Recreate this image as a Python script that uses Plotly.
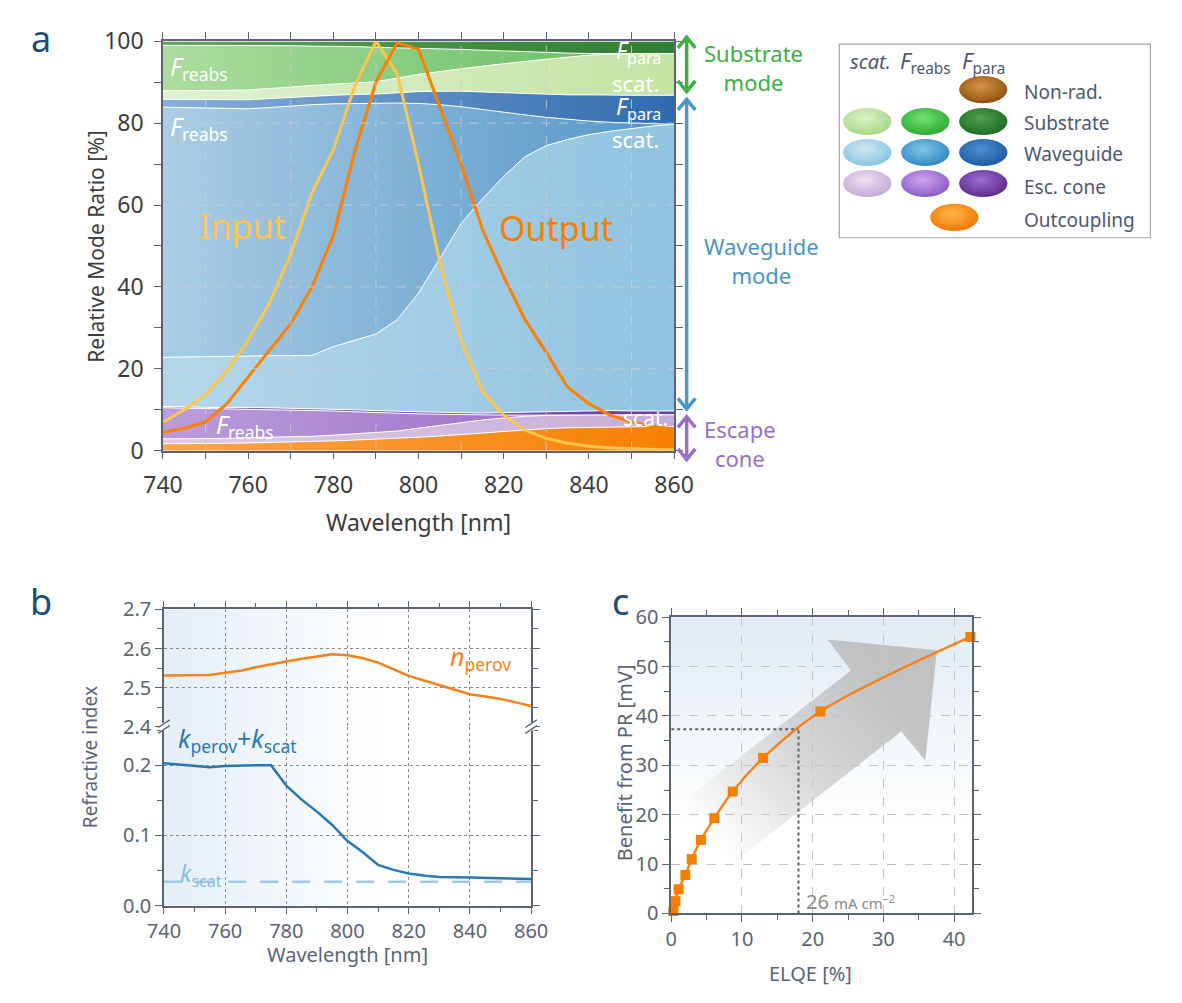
import base64
import plotly.graph_objects as go

W, H = 1182, 1003
FONT = "Noto Sans"
AXIS = "#5a6478"


def fx(x):
    return x / W


def fy(y):
    return 1 - y / H


# ---------------- panel a: relative mode ratio ----------------
wl = list(range(740, 865, 5))
outcoupling = [1.7, 1.7, 1.8, 1.8, 1.9, 2.0, 2.1, 2.2, 2.4, 2.6, 2.8, 3.0, 3.3, 3.6, 3.9, 4.3, 4.7, 5.1, 5.4, 5.6, 5.7, 5.8, 5.8, 5.9, 5.9]
esc_scat = [1.2, 1.2, 1.2, 1.2, 1.3, 1.3, 1.3, 1.3, 1.4, 1.5, 1.6, 1.8, 2.2, 2.6, 3.0, 3.2, 3.3, 3.3, 3.2, 3.1, 3.0, 3.0, 2.9, 2.9, 2.9]
esc_reabs = [7.6, 7.5, 7.4, 7.2, 7.0, 6.8, 6.6, 6.3, 5.9, 5.4, 4.9, 4.3, 3.5, 2.7, 1.9, 1.2, 0.7, 0.3, 0.1, 0.0, 0.0, 0.0, 0.0, 0.0, 0.0]
esc_para = [0.3, 0.3, 0.3, 0.3, 0.4, 0.4, 0.4, 0.4, 0.4, 0.5, 0.5, 0.5, 0.5, 0.5, 0.5, 0.5, 0.6, 0.7, 0.8, 0.9, 1.0, 1.0, 1.0, 0.9, 0.9]
wg_scat = [12.0, 12.2, 12.3, 12.6, 12.6, 12.7, 12.8, 13.1, 15.3, 17.0, 18.7, 22.4, 29.0, 37.6, 46.2, 52.3, 57.7, 62.4, 65.0, 66.4, 67.5, 68.2, 69.0, 69.6, 70.0]
wg_reabs = [61.1, 60.9, 60.7, 60.5, 60.3, 60.6, 61.0, 61.2, 59.3, 57.8, 56.4, 52.9, 46.3, 37.5, 28.5, 21.8, 15.6, 10.2, 6.9, 4.9, 3.3, 2.2, 1.3, 0.5, 0.0]
wg_para = [1.9, 2.0, 2.0, 2.1, 2.2, 2.2, 2.1, 2.1, 2.1, 2.2, 2.2, 2.5, 2.9, 3.3, 3.8, 4.3, 4.8, 5.2, 5.6, 6.0, 6.4, 6.6, 6.8, 7.0, 7.1]
sub_scat = [2.1, 2.1, 2.3, 2.3, 2.4, 2.4, 2.5, 2.6, 2.7, 2.8, 3.0, 3.6, 4.2, 4.8, 5.5, 6.3, 7.1, 7.9, 8.6, 9.2, 9.7, 10.0, 10.1, 10.2, 10.2]
sub_reabs = [11.1, 11.1, 11.0, 11.0, 10.9, 10.5, 10.1, 9.6, 9.3, 8.9, 8.4, 7.4, 6.4, 5.5, 4.7, 3.9, 3.1, 2.3, 1.6, 1.0, 0.4, 0.2, 0.1, 0.0, 0.0]
sub_para = [1.0, 1.0, 1.0, 1.0, 1.0, 1.1, 1.1, 1.2, 1.2, 1.3, 1.5, 1.6, 1.7, 1.9, 2.0, 2.2, 2.4, 2.6, 2.8, 2.9, 3.0, 3.0, 3.0, 3.0, 3.0]
pl_input = [7, 10, 13.7, 19.5, 27, 36, 48, 63, 73.5, 89, 100, 92, 70, 46, 27, 14.5, 8.7, 5, 3, 1.8, 1.1, 0.7, 0.5, 0.3, 0.2]
pl_output = [4.5, 5.5, 7, 11.5, 18, 24.5, 31, 40, 52.5, 73, 90, 99.6, 98, 84, 70, 54, 42.5, 32, 24, 15.5, 11.5, 8.7, 7, 6, 5.3]

# ---------------- panel b: refractive index ----------------
n_wl = [740, 750, 755, 760, 765, 770, 775, 780, 785, 790, 795, 800, 805, 810, 815, 820, 825, 830, 835, 840, 845, 850, 855, 860]
n_perov = [2.531, 2.531, 2.532, 2.538, 2.543, 2.552, 2.560, 2.567, 2.574, 2.579, 2.585, 2.583, 2.575, 2.564, 2.547, 2.530, 2.518, 2.506, 2.494, 2.483, 2.477, 2.471, 2.462, 2.453]
k_wl = [740, 745, 750, 755, 760, 765, 770, 775, 780, 785, 790, 795, 800, 805, 810, 815, 820, 825, 830, 840, 850, 860]
k_total = [0.203, 0.201, 0.198, 0.197, 0.199, 0.200, 0.200, 0.200, 0.171, 0.151, 0.134, 0.115, 0.092, 0.076, 0.058, 0.051, 0.046, 0.043, 0.041, 0.040, 0.039, 0.038]
ks_wl = [740, 860]
k_scat = [0.034, 0.034]

# ---------------- panel c: benefit from photon recycling ----------------
elqe = [0.3, 0.6, 1.05, 2.0, 2.9, 4.2, 6.1, 8.7, 13.0, 21.1, 42.3]
benefit = [0.5, 2.5, 4.9, 7.8, 11.0, 14.9, 19.3, 24.7, 31.5, 40.9, 56.0]
elqe_26mA = 18.0
benefit_26mA = 37.3

fig = go.Figure()

# stacked mode bands, bottom to top
bands = [
    ("Outcoupling", outcoupling, "#f9a64a", "#f77f00"),
    ("Esc. cone scat.", esc_scat, "#ddcbe7", "#c6acd8"),
    ("Esc. cone F_reabs", esc_reabs, "#bb9ddb", "#9262c2"),
    ("Esc. cone F_para", esc_para, "#8a62b8", "#693e9f"),
    ("Waveguide scat.", wg_scat, "#b6d7ea", "#8fc3e0"),
    ("Waveguide F_reabs", wg_reabs, "#abcde4", "#4f93c6"),
    ("Waveguide F_para", wg_para, "#88b0d9", "#2d68ad"),
    ("Substrate scat.", sub_scat, "#e0f2d0", "#c3e3a2"),
    ("Substrate F_reabs", sub_reabs, "#acdd9f", "#5fba5c"),
    ("Substrate F_para", sub_para, "#5ea455", "#2f7d32"),
]
for name, vals, c0, c1 in bands:
    fig.add_trace(go.Scatter(
        x=wl, y=vals, name=name, mode="lines", stackgroup="modes",
        line=dict(color="white", width=1),
        fillgradient=dict(type="horizontal", start=740, stop=860,
                          colorscale=[[0, c0], [1, c1]]),
        xaxis="x", yaxis="y", showlegend=False, hoverinfo="skip"))

fig.add_trace(go.Scatter(x=wl, y=pl_input, mode="lines", line=dict(color="#fcc64c", width=3),
                         xaxis="x", yaxis="y", showlegend=False))
fig.add_trace(go.Scatter(x=wl, y=pl_output, mode="lines", line=dict(color="#ff7f00", width=3),
                         xaxis="x", yaxis="y", showlegend=False))

# panel b curves
fig.add_trace(go.Scatter(x=n_wl, y=n_perov, mode="lines", line=dict(color="#f7821b", width=2.5),
                         xaxis="x3", yaxis="y3", showlegend=False))
fig.add_trace(go.Scatter(x=k_wl, y=k_total, mode="lines", line=dict(color="#2878b8", width=2.5),
                         xaxis="x2", yaxis="y2", showlegend=False))
fig.add_trace(go.Scatter(x=ks_wl, y=k_scat, mode="lines",
                         line=dict(color="#9dcbe6", width=2.5, dash="18px,14px"),
                         xaxis="x2", yaxis="y2", showlegend=False))

# panel c curve
fig.add_trace(go.Scatter(x=elqe, y=benefit, mode="lines+markers",
                         line=dict(color="#f7821b", width=2.5, shape="spline"),
                         marker=dict(symbol="square", size=10, color="#f77f00"),
                         xaxis="x4", yaxis="y4", showlegend=False, cliponaxis=False))

# ---------------- axes ----------------
tickfont_a = dict(family=FONT, size=23, color="#3c3c3c")
tickfont_bc = dict(family=FONT, size=20, color=AXIS)
common = dict(showline=True, linecolor=AXIS, linewidth=1.5, ticks="outside",
              tickcolor=AXIS, ticklen=7, zeroline=False)

PA = dict(l=148, r=677, t=25, b=448)
PB = dict(l=149, r=529, t=612, m=733, b=918)
XC_MAX = 42.6
PC = dict(l=674, r=674 + XC_MAX * 7.32, t=620, b=926)

fig.update_layout(
    xaxis=dict(domain=[fx(PA["l"]), fx(PA["r"])], range=[740, 860], anchor="y",
               tickvals=list(range(740, 861, 20)), mirror="allticks", showgrid=False,
               tickfont=tickfont_a, ticklabelstandoff=6,
               minor=dict(dtick=10, tick0=740, ticks="outside", ticklen=7, tickcolor=AXIS), **common),
    yaxis=dict(domain=[fy(PA["b"]), fy(PA["t"])], range=[0, 100], anchor="x",
               tickvals=list(range(0, 101, 20)), mirror="allticks", showgrid=False,
               tickfont=tickfont_a, ticklabelstandoff=6,
               minor=dict(dtick=10, tick0=0, ticks="outside", ticklen=7, tickcolor=AXIS), **common),
    xaxis2=dict(domain=[fx(PB["l"]), fx(PB["r"])], range=[740, 860], anchor="y2",
                tickvals=list(range(740, 861, 20)), showgrid=True, griddash="dot",
                gridcolor="#8a8a8a", gridwidth=1, tickfont=tickfont_bc,
                minor=dict(dtick=10, tick0=740, ticks="outside", ticklen=5, tickcolor=AXIS), **common),
    yaxis2=dict(domain=[fy(PB["b"]), fy(PB["m"])], range=[0, 0.255], anchor="x2",
                tickvals=[0, 0.1, 0.2], tickformat=".1f", mirror="ticks", showgrid=True,
                griddash="dot", gridcolor="#8a8a8a", tickfont=tickfont_bc,
                minor=dict(dtick=0.05, tick0=0, ticks="outside", ticklen=5, tickcolor=AXIS), **common),
    xaxis3=dict(domain=[fx(PB["l"]), fx(PB["r"])], range=[740, 860], anchor="y3", side="top",
                tickvals=list(range(740, 861, 20)), showticklabels=False, showgrid=True,
                griddash="dot", gridcolor="#8a8a8a",
                minor=dict(dtick=10, tick0=740, ticks="outside", ticklen=5, tickcolor=AXIS), **common),
    yaxis3=dict(domain=[fy(PB["m"]), fy(PB["t"])], range=[2.4, 2.7], anchor="x3",
                tickvals=[2.4, 2.5, 2.6, 2.7], tickformat=".1f", mirror="ticks", showgrid=True,
                griddash="dot", gridcolor="#8a8a8a", tickfont=tickfont_bc,
                minor=dict(dtick=0.05, tick0=2.4, ticks="outside", ticklen=5, tickcolor=AXIS), **common),
    xaxis4=dict(domain=[fx(PC["l"]), fx(PC["r"])], range=[0, XC_MAX], anchor="y4",
                tickvals=[0, 10, 20, 30, 40], mirror="allticks", showgrid=True, griddash="dash",
                gridcolor="#c4c4c4", tickfont=tickfont_bc,
                minor=dict(dtick=5, tick0=0, ticks="outside", ticklen=5, tickcolor=AXIS), **common),
    yaxis4=dict(domain=[fy(PC["b"]), fy(PC["t"])], range=[0, 60], anchor="x4",
                tickvals=list(range(0, 61, 10)), mirror="allticks", showgrid=True, griddash="dash",
                gridcolor="#c4c4c4", tickfont=tickfont_bc,
                minor=dict(dtick=5, tick0=0, ticks="outside", ticklen=5, tickcolor=AXIS), **common),
)


# ---------------- images: gradient backgrounds, arrow, legend beads ----------------
def svg_uri(svg):
    return "data:image/svg+xml;base64," + base64.b64encode(svg.encode()).decode()


def lin_grad_rect(x2, y2, stops):
    st = "".join(f'<stop offset="{o}" stop-color="{c}"/>' for o, c in stops)
    return svg_uri(
        '<svg xmlns="http://www.w3.org/2000/svg" width="200" height="200" viewBox="0 0 200 200" '
        'preserveAspectRatio="none"><defs><linearGradient id="g" x1="0" y1="0" '
        f'x2="{x2}" y2="{y2}">{st}</linearGradient></defs>'
        '<rect width="200" height="200" fill="url(#g)"/></svg>')


def place(src, x, y, w, h):
    return dict(source=src, x=fx(x), y=fy(y), sizex=w / W, sizey=h / H)


images = [
    place(lin_grad_rect(1, 0, [(0, "#e4eef6"), (0.6, "#ffffff")]),
          PB["l"], PB["t"], PB["r"] - PB["l"], PB["b"] - PB["t"]),
    place(lin_grad_rect(0, 1, [(0, "#e0ebf3"), (0.7, "#ffffff")]),
          PC["l"], PC["t"], PC["r"] - PC["l"], PC["b"] - PC["t"]),
]

arrow_svg = (
    '<svg xmlns="http://www.w3.org/2000/svg" width="320" height="280" viewBox="660 620 320 280" '
    'preserveAspectRatio="none"><defs><linearGradient id="a" gradientUnits="userSpaceOnUse" '
    'x1="715" y1="850" x2="905" y2="700">'
    '<stop offset="0" stop-color="#c4c4c4" stop-opacity="0"/>'
    '<stop offset="0.55" stop-color="#c2c2c2" stop-opacity="0.65"/>'
    '<stop offset="1" stop-color="#bcbcbc" stop-opacity="0.9"/></linearGradient></defs>'
    '<polygon points="684,812 860,675 836,643 949,654 937,768 912,738 737,875" fill="url(#a)"/></svg>')
images.append(place(svg_uri(arrow_svg), 660, 620, 320, 280))


def bead(light, dark):
    return svg_uri(
        '<svg xmlns="http://www.w3.org/2000/svg" width="52" height="30" viewBox="0 0 52 30" '
        'preserveAspectRatio="none"><defs><radialGradient id="r" cx="0.45" cy="0.38" r="0.65">'
        f'<stop offset="0" stop-color="{light}"/><stop offset="1" stop-color="{dark}"/>'
        '</radialGradient></defs><ellipse cx="26" cy="15" rx="25" ry="14" fill="url(#r)"/></svg>')


beads = [
    (997, 75, "#d89448", "#8a4f0e"),
    (877, 108, "#dcf2c6", "#a5d685"), (937, 108, "#74e274", "#29a72c"), (997, 108, "#4fa04f", "#1d6a22"),
    (877, 140, "#cde9f6", "#86c2df"), (937, 140, "#80c4ea", "#2e87c0"), (997, 140, "#4f8fd4", "#1a58a0"),
    (877, 172, "#eee0f2", "#c2a6d3"), (937, 172, "#cda6ef", "#8858c6"), (997, 172, "#9d6ed3", "#582889"),
    (967, 207, "#ffb54a", "#ef7600"),
]
for cx, cy, lt, dk in beads:
    images.append(place(bead(lt, dk), cx - 26, cy - 15, 52, 30))

for im in images:
    im.update(xref="paper", yref="paper", xanchor="left", yanchor="top", sizing="stretch", layer="below")
fig.update_layout(images=images)

# ---------------- shapes ----------------
shapes = []
# dashed grid on top of the mode bands
for xv in range(750, 860, 20):
    shapes.append(dict(type="line", xref="x", yref="y", x0=xv, x1=xv, y0=0, y1=100, layer="above",
                       line=dict(color="rgba(205,205,205,0.85)", width=1, dash="dash")))
for yv in (20, 40, 60, 80):
    shapes.append(dict(type="line", xref="x", yref="y", x0=740, x1=860, y0=yv, y1=yv, layer="above",
                       line=dict(color="rgba(205,205,205,0.85)", width=1, dash="dash")))


def P(x, y):
    return f"{fx(x):.5f},{fy(y):.5f}"


def double_arrow(x, y1, y2, color):
    path = (f"M {P(x, y1)} L {P(x, y2)} "
            f"M {P(x - 9, y1 + 11)} L {P(x, y1)} L {P(x + 9, y1 + 11)} "
            f"M {P(x - 9, y2 - 11)} L {P(x, y2)} L {P(x + 9, y2 - 11)}")
    return dict(type="path", xref="paper", yref="paper", path=path,
                line=dict(color=color, width=3.5))


shapes.append(double_arrow(690, 21, 77, "#3cb043"))
shapes.append(double_arrow(690, 85, 405, "#4a98c8"))
shapes.append(double_arrow(690, 413, 457, "#9a6fc8"))

# legend frame
shapes.append(dict(type="rect", xref="paper", yref="paper", x0=fx(848), x1=fx(1170), y0=fy(28), y1=fy(228),
                   line=dict(color="#a6a6a6", width=1.2), layer="below"))

# axis break marks in panel b
for bx in (PB["l"], PB["r"]):
    shapes.append(dict(type="rect", xref="paper", yref="paper", x0=fx(bx - 4), x1=fx(bx + 4),
                       y0=fy(737), y1=fy(729), fillcolor="white", line=dict(width=0), layer="above"))
    for dy in (-3, 3):
        shapes.append(dict(type="line", xref="paper", yref="paper", x0=fx(bx - 6), x1=fx(bx + 6),
                           y0=fy(737 + dy), y1=fy(729 + dy), line=dict(color=AXIS, width=1.3),
                           layer="above"))

# 26 mA cm-2 guide lines in panel c
shapes.append(dict(type="line", xref="x4", yref="y4", x0=0, x1=elqe_26mA, y0=benefit_26mA, y1=benefit_26mA,
                   line=dict(color="#5f5f5f", width=2, dash="dot")))
shapes.append(dict(type="line", xref="x4", yref="y4", x0=elqe_26mA, x1=elqe_26mA, y0=0, y1=benefit_26mA,
                   line=dict(color="#5f5f5f", width=2, dash="dot")))
fig.update_layout(shapes=shapes)

# ---------------- text ----------------
ann = []


def txt(x, y, s, size, color, xanchor="center", yanchor="middle", angle=0):
    ann.append(dict(x=fx(x), y=fy(y), xref="paper", yref="paper", text=s, showarrow=False,
                    xanchor=xanchor, yanchor=yanchor, textangle=angle,
                    font=dict(family=FONT, size=size, color=color)))


def F(sub):
    return f"<i>F</i><sub>{sub}</sub>"


# panel letters
txt(22, 22, "a", 36, "#1b4f7a")
txt(22, 604, "b", 36, "#1b4f7a")
txt(622, 604, "c", 36, "#1b4f7a")

# panel a labels
txt(153, 52, F("reabs"), 25, "white", xanchor="left")
txt(153, 114, F("reabs"), 25, "white", xanchor="left")
txt(201, 422, F("reabs"), 25, "white", xanchor="left")
txt(615, 36, F("para"), 23, "white", xanchor="left")
txt(611, 68, "scat.", 22, "white", xanchor="left")
txt(615, 93, F("para"), 23, "white", xanchor="left")
txt(611, 126, "scat.", 22, "white", xanchor="left")
txt(622, 414, "scat.", 21, "white", xanchor="left")
txt(230, 216, "Input", 34, "#fcc64c")
txt(555, 218, "Output", 34, "#f77f00")

txt(706, 52, "Substrate<br>mode", 22, "#3cb043", xanchor="left")
txt(706, 252, "Waveguide<br>mode", 22, "#4a95c4", xanchor="left")
txt(706, 441, "Escape<br>cone", 22, "#9a6fc8", xanchor="left")

txt(79, 237, "Relative Mode Ratio [%]", 21, "#3c3c3c", angle=-90)
txt(412, 522, "Wavelength [nm]", 23, "#3c3c3c")

# legend text
txt(880, 46, "<i>scat.</i>", 20, "#4d5872")
txt(937, 46, F("reabs"), 22, "#4d5872")
txt(997, 46, F("para"), 22, "#4d5872")
for label, yy in (("Non-rad.", 77), ("Substrate", 109), ("Waveguide", 142), ("Esc. cone", 176), ("Outcoupling", 210)):
    txt(1037, yy, label, 19, "#4d5872", xanchor="left")

# panel b labels
txt(72, 765, "Refractive index", 19, AXIS, angle=-90)
txt(339, 968, "Wavelength [nm]", 20, AXIS)
txt(443, 662, "<i>n</i><sub>perov</sub>", 25, "#f7821b", xanchor="left")
txt(161, 746, "<i>k</i><sub>perov</sub>+<i>k</i><sub>scat</sub>", 25, "#2878b8", xanchor="left")
txt(164, 886, "<i>k</i><sub>scat</sub>", 23, "#83bddf", xanchor="left")

# panel c labels
txt(626, 770, "Benefit from PR [mV]", 20, AXIS, angle=-90)
txt(818, 988, "ELQE [%]", 20, AXIS)
txt(811, 914, "26 <span style='font-size:15px'>mA cm<sup>−2</sup></span>", 20, "#8a8a8a", xanchor="left")

fig.update_layout(annotations=ann)

fig.update_layout(width=W, height=H, margin=dict(l=0, r=0, t=0, b=0),
                  paper_bgcolor="white", plot_bgcolor="rgba(0,0,0,0)", showlegend=False,
                  font=dict(family=FONT))

fig.write_html("out.html")
